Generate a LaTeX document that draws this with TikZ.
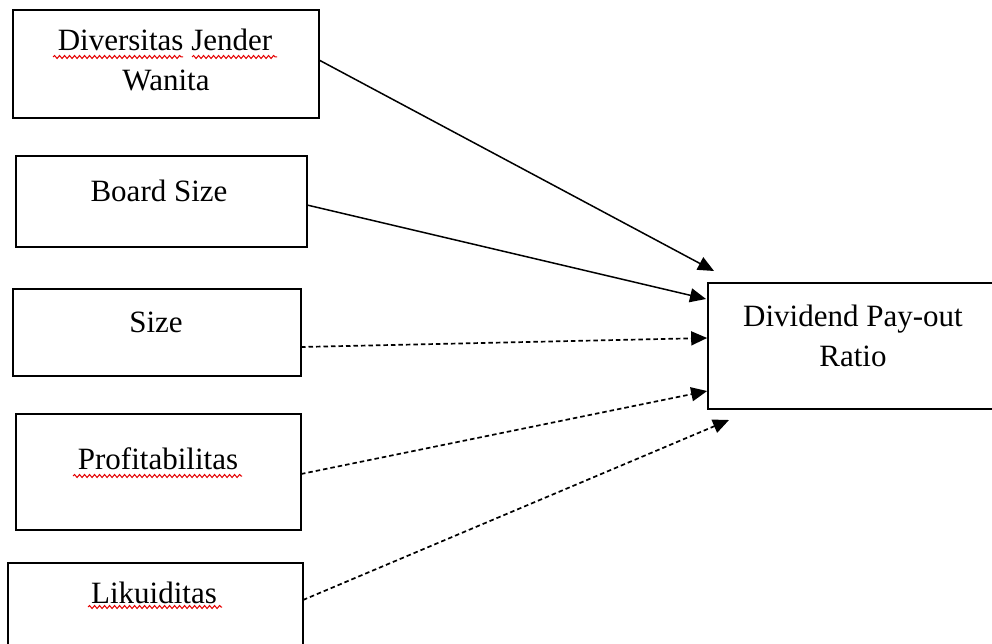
\documentclass[tikz,border=0pt]{standalone}
\usepackage{fontspec}
\setmainfont{Liberation Serif}
\usetikzlibrary{arrows.meta,decorations.pathmorphing}
\begin{document}
\begin{tikzpicture}[x=1pt,y=-1pt,
  box/.style={draw=black,line width=1.7pt,rectangle,inner sep=0pt},
  lbl/.style={anchor=base,inner sep=0pt,font=\fontsize{31}{40}\selectfont,text=black},
  conn/.style={line width=1.5pt,-{Triangle[length=16pt,width=14pt]}},
  dconn/.style={conn,line width=1.7pt,dash pattern=on 4.5pt off 3pt},
  squig/.style={draw=red!90!black,line width=1pt,decorate,decoration={snake,segment length=5pt,amplitude=1.5pt}}]
\useasboundingbox (0,0) rectangle (992,644);
\clip (0,0) rectangle (992,644);
\fill[white] (0,0) rectangle (992,644);
% boxes
\node[box,minimum width=306pt,minimum height=108pt] (b1) at (166,64) {};
\node[box,minimum width=291pt,minimum height=91pt] (b2) at (161.5,201.5) {};
\node[box,minimum width=288pt,minimum height=87pt] (b3) at (157,332.5) {};
\node[box,minimum width=285pt,minimum height=116pt] (b4) at (158.5,472) {};
\node[box,minimum width=295pt,minimum height=137pt] (b5) at (155.5,631.5) {};
\node[box,minimum width=302pt,minimum height=126pt] (t) at (859,346) {};
% labels
\node[lbl] (l1a) at (165,51) {Diversitas Jender};
\node[lbl] (l1b) at (166,91) {Wanita};
\node[lbl] (l2) at (159,202) {Board Size};
\node[lbl] (l3) at (156,332) {Size};
\node[lbl] (l4) at (158,469) {Profitabilitas};
\node[lbl] (l5) at (154,603) {Likuiditas};
\node[lbl] (lta) at (853,326) {Dividend Pay-out};
\node[lbl] (ltb) at (853,366) {Ratio};
% spell-check squiggles
\draw[squig] (53,57) -- (183,57);
\draw[squig] (192,57) -- (277,57);
\draw[squig] (73,476) -- (242,476);
\draw[squig] (88,607) -- (222,607);
% connector ends
\coordinate (s1) at (319,60);
\coordinate (s2) at (307,205);
\coordinate (s3) at (301,347);
\coordinate (s4) at (301,474);
\coordinate (s5) at (303,600);
\coordinate (e1) at (714,271);
\coordinate (e2) at (706,299);
\coordinate (e3) at (t.west |- 0,338);
\coordinate (e4) at (t.west |- 0,391);
\coordinate (e5) at (729,420);
\draw[conn] (s1) -- (e1);
\draw[conn] (s2) -- (e2);
\draw[dconn] (s3) -- (e3);
\draw[dconn] (s4) -- (e4);
\draw[dconn] (s5) -- (e5);
\end{tikzpicture}
\end{document}
